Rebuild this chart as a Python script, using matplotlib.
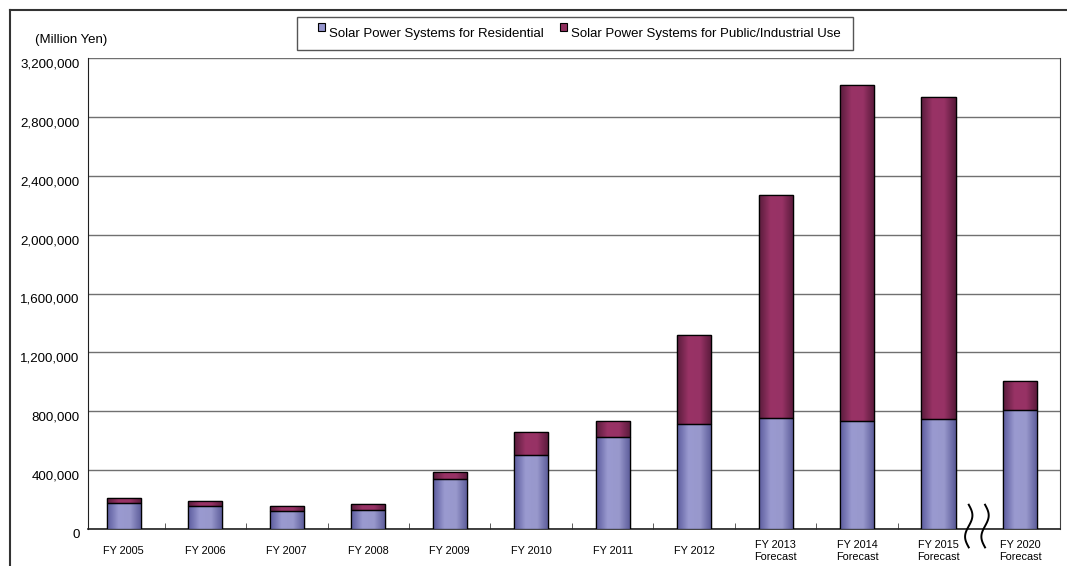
import numpy as np
import matplotlib.pyplot as plt
from matplotlib.lines import Line2D
from matplotlib.patches import Rectangle
from matplotlib.colors import LinearSegmentedColormap
import matplotlib.transforms as mtransforms

plt.rcParams['font.family'] = ['Liberation Sans', 'DejaVu Sans']

# data (million yen)
labels = ["FY 2005", "FY 2006", "FY 2007", "FY 2008", "FY 2009", "FY 2010",
          "FY 2011", "FY 2012", "FY 2013\nForecast", "FY 2014\nForecast",
          "FY 2015\nForecast", "FY 2020\nForecast"]
residential = [178000, 158000, 123000, 130000, 338000, 503000,
               624000, 713000, 752000, 731000, 745000, 809000]
total = [210000, 187000, 153000, 167000, 386000, 661000,
         734000, 1318000, 2269000, 3016000, 2935000, 1008000]
public = [t - r for t, r in zip(total, residential)]

W, H = 1067, 566
fig = plt.figure(figsize=(W / 100, H / 100), dpi=100)
ax = fig.add_axes([88 / W, (H - 529) / H, 972 / W, 471 / H])

x = np.arange(len(labels))
bw = 0.42

res_cmap = LinearSegmentedColormap.from_list("res", ["#5c5c9e", "#9a9ad0", "#9898cc", "#5a5a98"])
pub_cmap = LinearSegmentedColormap.from_list("pub", ["#5a1c3c", "#993366", "#973265", "#581a3a"])
grad = np.linspace(0, 1, 64).reshape(1, -1)

bars_r = ax.bar(x, residential, bw, color="#9494cc", edgecolor="black", linewidth=0.9, zorder=3)
bars_p = ax.bar(x, public, bw, bottom=residential, color="#8f2f5e", edgecolor="black", linewidth=0.9, zorder=3)

# shaded fill like the original cylinder-ish bars
for bars, cm in ((bars_r, res_cmap), (bars_p, pub_cmap)):
    for b in bars:
        bx, by = b.get_x(), b.get_y()
        im = ax.imshow(grad, cmap=cm, aspect="auto", zorder=3.5,
                       extent=[bx, bx + b.get_width(), by, by + b.get_height()])
        im.set_clip_path(b)
        r = Rectangle((bx, by), b.get_width(), b.get_height(), fill=False,
                      edgecolor="black", linewidth=0.9, zorder=4)
        ax.add_patch(r)

ax.set_xlim(-0.44, len(labels) - 0.51)
ax.set_ylim(0, 3200000)
yt = np.arange(0, 3200001, 400000)
ax.set_yticks(yt)
ax.set_yticklabels([f"{v:,}" for v in yt], fontsize=9.6)
ax.yaxis.grid(True, color="#707070", linewidth=1.0, zorder=0)
ax.set_axisbelow(True)

ax.set_xticks(x)
ax.set_xticklabels(labels, fontsize=7.8, linespacing=1.3)
ax.set_xticks(np.arange(0.5, len(labels) - 1.5, 1.0), minor=True)
ax.tick_params(axis="x", which="major", length=0, pad=13)
ax.tick_params(axis="x", which="minor", length=4, direction="in", color="#404040")
ax.tick_params(axis="y", length=0, pad=6)

for lab in ax.get_yticklabels():
    lab.set_transform(lab.get_transform() + mtransforms.ScaledTranslation(0, -5 / 100, fig.dpi_scale_trans))
for lab in ax.get_xticklabels():
    lab.set_verticalalignment("center")
    lab.set_transform(lab.get_transform() + mtransforms.ScaledTranslation(0, -4 / 100, fig.dpi_scale_trans))

ax.spines["top"].set_visible(False)
ax.spines["left"].set_color("#202020")
ax.spines["bottom"].set_color("#202020")
ax.spines["right"].set_color("#404040")
ax.spines["bottom"].set_linewidth(1.2)

# axis break marks between FY 2015 and FY 2020
t = np.linspace(0, 1, 60)
for xc in (10.37, 10.57):
    ax.plot(xc + 0.045 * np.sin(t * 2 * np.pi), 165000 - t * 290000, color="black",
            linewidth=1.4, clip_on=False, zorder=5)

ax.text(35 / W, 1 - 40 / H, "(Million Yen)", transform=fig.transFigure, fontsize=9.5,
        ha="left", va="center")

# legend box (frame drawn separately, the original has uneven padding)
fig.add_artist(Rectangle((297 / W, 1 - 50 / H), (853 - 297) / W, 33 / H, transform=fig.transFigure,
                         fill=False, edgecolor="#555555", linewidth=1.0))
leg = fig.legend([Rectangle((0, 0), 1, 1, fc="#9494cc", ec="black", lw=0.8),
                  Rectangle((0, 0), 1, 1, fc="#8f2f5e", ec="black", lw=0.8)],
                 ["Solar Power Systems for Residential", "Solar Power Systems for Public/Industrial Use"],
                 loc="center left", bbox_to_anchor=(318 / W, 1 - 33.5 / H), ncol=2,
                 fontsize=9.5, frameon=False, handlelength=0.55, handleheight=0.55,
                 handletextpad=0.3, columnspacing=1.2, borderpad=0, borderaxespad=0)
for h in leg.legend_handles:
    h.set_y(4)

# outer frame of the picture
fig.add_artist(Line2D([10 / W, 10 / W], [0, 1 - 10 / H], color="#333333", linewidth=1.5))
fig.add_artist(Line2D([10 / W, 1], [1 - 10 / H, 1 - 10 / H], color="#333333", linewidth=1.5))

fig.savefig("out.png", dpi=100)
